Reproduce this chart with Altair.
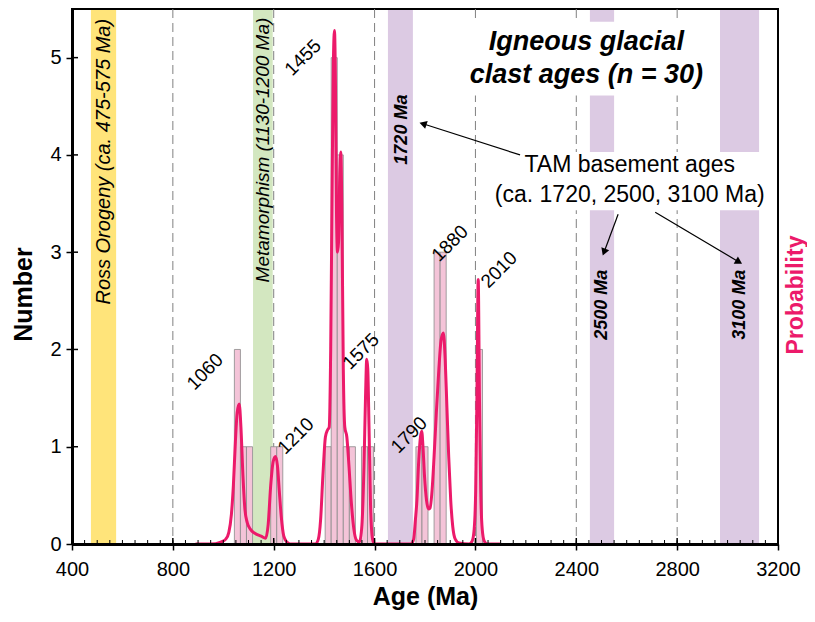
import math
import altair as alt
import pandas as pd

# ---------------- data ----------------
# histogram (bin start in Ma, count); bins are ~24 Ma wide
bin_start = [1044, 1068, 1092, 1188, 1212, 1404, 1428, 1452, 1476, 1500,
             1548, 1572, 1764, 1788, 1836, 1860, 2004]
bin_count = [2, 1, 1, 1, 1, 1, 5, 4, 1, 1, 1, 1, 1, 1, 3, 3, 2]
BIN_W = 24

# probability density curve (in "Number" units)
pdf_age = [890, 950, 990, 1010, 1022, 1032, 1040, 1048, 1055, 1063, 1070, 1078, 1086, 1095,
           1108, 1125, 1150, 1168, 1178, 1188, 1198, 1207, 1215, 1222, 1230, 1240, 1252, 1265,
           1365, 1377, 1386, 1395, 1405, 1413, 1420, 1426, 1432, 1437, 1441, 1445, 1449, 1453,
           1457, 1462, 1466, 1470, 1476, 1482, 1490, 1498, 1508, 1518, 1528, 1540, 1550, 1558,
           1564, 1569, 1573, 1578, 1584, 1592, 1600,
           1745, 1755, 1762, 1768, 1775, 1782, 1787, 1792, 1798, 1806, 1814, 1820, 1828, 1836,
           1845, 1855, 1864, 1873, 1880, 1887, 1894, 1902, 1910, 1920, 1935,
           1975, 1987, 1995, 2001, 2006, 2011, 2016, 2021, 2027, 2035, 2047, 2100]
pdf_val = [0, 0, 0.02, 0.05, 0.12, 0.3, 0.6, 1.05, 1.35, 1.44, 1.2, 0.7, 0.35, 0.22,
           0.15, 0.11, 0.08, 0.06, 0.2, 0.6, 0.85, 0.9, 0.8, 0.55, 0.28, 0.08, 0.02, 0,
           0, 0.05, 0.25, 0.7, 1.1, 1.17, 1.2, 2.0, 3.8, 5.0, 5.28, 4.7, 3.4, 3.0,
           3.1, 3.8, 4.03, 3.5, 1.8, 1.2, 1.1, 0.82, 0.42, 0.15, 0.04, 0.02, 0.2, 0.8,
           1.5, 1.9, 1.8, 1.2, 0.4, 0.05, 0,
           0, 0.05, 0.25, 0.45, 0.85, 1.1, 1.16, 1.0, 0.7, 0.45, 0.36, 0.37, 0.55, 0.9,
           1.35, 1.8, 2.1, 2.17, 1.9, 1.4, 0.9, 0.45, 0.18, 0.05, 0.01,
           0, 0.03, 0.15, 0.55, 1.5, 2.72, 1.5, 0.55, 0.15, 0.03, 0, 0]

# peak labels
peak_text = ["1060", "1210", "1455", "1575", "1790", "1880", "2010"]
peak_x = [928, 1288, 1316, 1546, 1737, 1899, 2094]
peak_y = [1.77, 1.11, 5.0, 1.98, 1.12, 3.09, 2.82]

# shaded age bands
band_lo = [475, 1118, 1653, 2454, 2970]
band_hi = [575, 1196, 1752, 2550, 3125]
band_col = ["#FFE47A", "#D3E7C0", "#DCCAE3", "#DCCAE3", "#DCCAE3"]

# band labels
italic_text = ["Ross Orogeny (ca. 475-575 Ma)", "Metamorphism (1130-1200 Ma)"]
italic_x = [525, 1158]
italic_y = [3.93, 4.05]
italic_size = [20, 19]
ma_text = ["1720 Ma", "2500 Ma", "3100 Ma"]
ma_x = [1709, 2502, 3050]
ma_y = [4.26, 2.46, 2.46]

# gridlines and ticks
grid_vals = [800, 1200, 1600, 2000, 2400, 2800]
major_x = list(range(400, 3201, 400))
minor_x = list(range(400, 3201, 50))
y_ticks = [0, 1, 2, 3, 4, 5]

# annotation text
title_lines = ["Igneous glacial", "clast ages (n = 30)"]
title_x = [2440, 2440]
title_y = [5.16, 4.82]
tam_lines = ["TAM basement ages", "(ca. 1720, 2500, 3100 Ma)"]
tam_x = [2612, 2612]
tam_y = [3.90, 3.59]

# white boxes behind annotation text
box_x1 = [1959, 2070]
box_x2 = [2939, 3161]
box_y1 = [4.61, 3.43]
box_y2 = [5.37, 4.03]

# arrows (start -> end)
arr_x1 = [2177, 2566, 2713]
arr_y1 = [4.00, 3.39, 3.41]
arr_x2 = [1792, 2510, 3045]
arr_y2 = [4.32, 3.00, 2.90]

# ---------------- layout ----------------
W, H = 706, 535
X_MIN, X_MAX = 400, 3200
Y_MAX = 5.5
FONT = "Liberation Sans"
PX_MA = W / (X_MAX - X_MIN)
PX_UNIT = H / Y_MAX
PINK = "#EC1A6A"

xscale = alt.Scale(domain=[X_MIN, X_MAX], nice=False, zero=False)
yscale = alt.Scale(domain=[0, Y_MAX], nice=False)

xaxis = alt.Axis(values=major_x, format="d", tickSize=6, tickWidth=1.5, tickColor="black",
                 domainColor="black", domainWidth=3, labelFont=FONT, labelFontSize=20,
                 labelColor="black", labelPadding=9, labelFlush=False, titleFont=FONT,
                 titleFontSize=25, titleFontWeight="bold", titleColor="black",
                 titlePadding=5, grid=False, zindex=1)
yaxis = alt.Axis(values=y_ticks, format="d", tickSize=6, tickWidth=1.5, tickColor="black",
                 domainColor="black", domainWidth=3, labelFont=FONT, labelFontSize=20,
                 labelColor="black", labelPadding=5, labelFlush=False, titleFont=FONT,
                 titleFontSize=25, titleFontWeight="bold", titleColor="black",
                 titlePadding=13, titleY=285, grid=False, zindex=1)


def X(f):
    return alt.X(f, type="quantitative", scale=xscale, axis=xaxis, title="Age (Ma)")


def Y(f):
    return alt.Y(f, type="quantitative", scale=yscale, axis=yaxis, title="Number")


bands_df = pd.DataFrame({"lo": band_lo, "hi": band_hi, "col": band_col})
bands = alt.Chart(bands_df).mark_rect().encode(
    x=X("lo"), x2="hi", y=alt.value(1), y2=alt.value(H),
    color=alt.Color("col:N", scale=None))

grid = alt.Chart(pd.DataFrame({"g": grid_vals})).mark_rule(
    color="#808080", strokeWidth=1, strokeDash=[9, 5]).encode(
    x=X("g"), y=alt.value(0), y2=alt.value(H))

boxes_df = pd.DataFrame({"x1": box_x1, "x2": box_x2, "y1": box_y1, "y2": box_y2})
boxes = alt.Chart(boxes_df).mark_rect(color="white").encode(
    x=X("x1"), x2="x2", y=Y("y1"), y2="y2")

bars_df = pd.DataFrame({"lo": bin_start, "hi": [b + BIN_W for b in bin_start],
                        "n": bin_count, "z": [0] * len(bin_start)})
bars = alt.Chart(bars_df).mark_rect(fill="#F4C4D8", stroke="#8a8a8a", strokeWidth=0.8).encode(
    x=X("lo"), x2="hi", y=Y("n"), y2="z")

pdf_df = pd.DataFrame({"age": pdf_age, "p": pdf_val})
pdf = alt.Chart(pdf_df).mark_line(color=PINK, strokeWidth=3, interpolate="monotone").encode(
    x=X("age"), y=Y("p"))

minor = alt.Chart(pd.DataFrame({"t": minor_x})).mark_rule(color="black", strokeWidth=1).encode(
    x=X("t"), y=alt.value(H), y2=alt.value(H - 4))
major = alt.Chart(pd.DataFrame({"t": major_x})).mark_rule(color="black", strokeWidth=1.5).encode(
    x=X("t"), y=alt.value(H), y2=alt.value(H - 6))
yin = alt.Chart(pd.DataFrame({"t": y_ticks})).mark_rule(color="black", strokeWidth=1.5).encode(
    y=Y("t"), x=alt.value(0), x2=alt.value(6))

peaks_df = pd.DataFrame({"x": peak_x, "y": peak_y, "t": peak_text})
peaks = alt.Chart(peaks_df).mark_text(font=FONT, fontSize=19, angle=315, color="black",
                                      align="center", baseline="middle").encode(
    x=X("x"), y=Y("y"), text="t:N")

ital_df = pd.DataFrame({"x": italic_x, "y": italic_y, "t": italic_text, "s": italic_size})
ital = alt.Chart(ital_df).mark_text(font=FONT, fontStyle="italic", angle=270, color="black",
                                    align="center", baseline="middle").encode(
    x=X("x"), y=Y("y"), text="t:N", size=alt.Size("s:Q", scale=None))

ma_df = pd.DataFrame({"x": ma_x, "y": ma_y, "t": ma_text})
ma = alt.Chart(ma_df).mark_text(font=FONT, fontStyle="italic", fontWeight="bold", fontSize=18,
                                angle=270, color="black", align="center",
                                baseline="middle").encode(
    x=X("x"), y=Y("y"), text="t:N")

title_df = pd.DataFrame({"x": title_x, "y": title_y, "t": title_lines})
title = alt.Chart(title_df).mark_text(font=FONT, fontStyle="italic", fontWeight="bold",
                                      fontSize=27, color="black", align="center",
                                      baseline="middle").encode(
    x=X("x"), y=Y("y"), text="t:N")

tam_df = pd.DataFrame({"x": tam_x, "y": tam_y, "t": tam_lines})
tam = alt.Chart(tam_df).mark_text(font=FONT, fontSize=23, color="black", align="center",
                                  baseline="middle").encode(
    x=X("x"), y=Y("y"), text="t:N")

angles = []
for a, b, c, d in zip(arr_x1, arr_y1, arr_x2, arr_y2):
    dx = (c - a) * PX_MA
    dy = -(d - b) * PX_UNIT
    angles.append(math.degrees(math.atan2(dx, -dy)) % 360)
arr_df = pd.DataFrame({"x1": arr_x1, "y1": arr_y1, "x2": arr_x2, "y2": arr_y2, "ang": angles})
arr_lines = alt.Chart(arr_df).mark_rule(color="black", strokeWidth=1.2).encode(
    x=X("x1"), y=Y("y1"), x2="x2", y2="y2")
arr_heads = alt.Chart(arr_df).mark_point(shape="triangle-up", filled=True, size=70,
                                         color="black", opacity=1).encode(
    x=X("x2"), y=Y("y2"), angle=alt.Angle("ang:Q", scale=None))

prob = alt.Chart(pd.DataFrame({"t": ["Probability"]})).mark_text(
    font=FONT, fontSize=23, fontWeight="bold", color=PINK, angle=270,
    align="center", baseline="middle").encode(
    text="t:N", x=alt.value(W + 18), y=alt.value(286))

chart = alt.layer(
    bands, grid, boxes, bars, pdf, minor, major, yin, peaks, ital, ma, title, tam,
    arr_lines, arr_heads, prob
).properties(
    width=W, height=H,
    autosize=alt.AutoSizeParams(type="none"),
    padding={"left": 64, "top": 1, "right": 29, "bottom": 68},
).configure_view(stroke="black", strokeWidth=2)

chart.save("out.html", embed_options={"renderer": "svg", "actions": False})
